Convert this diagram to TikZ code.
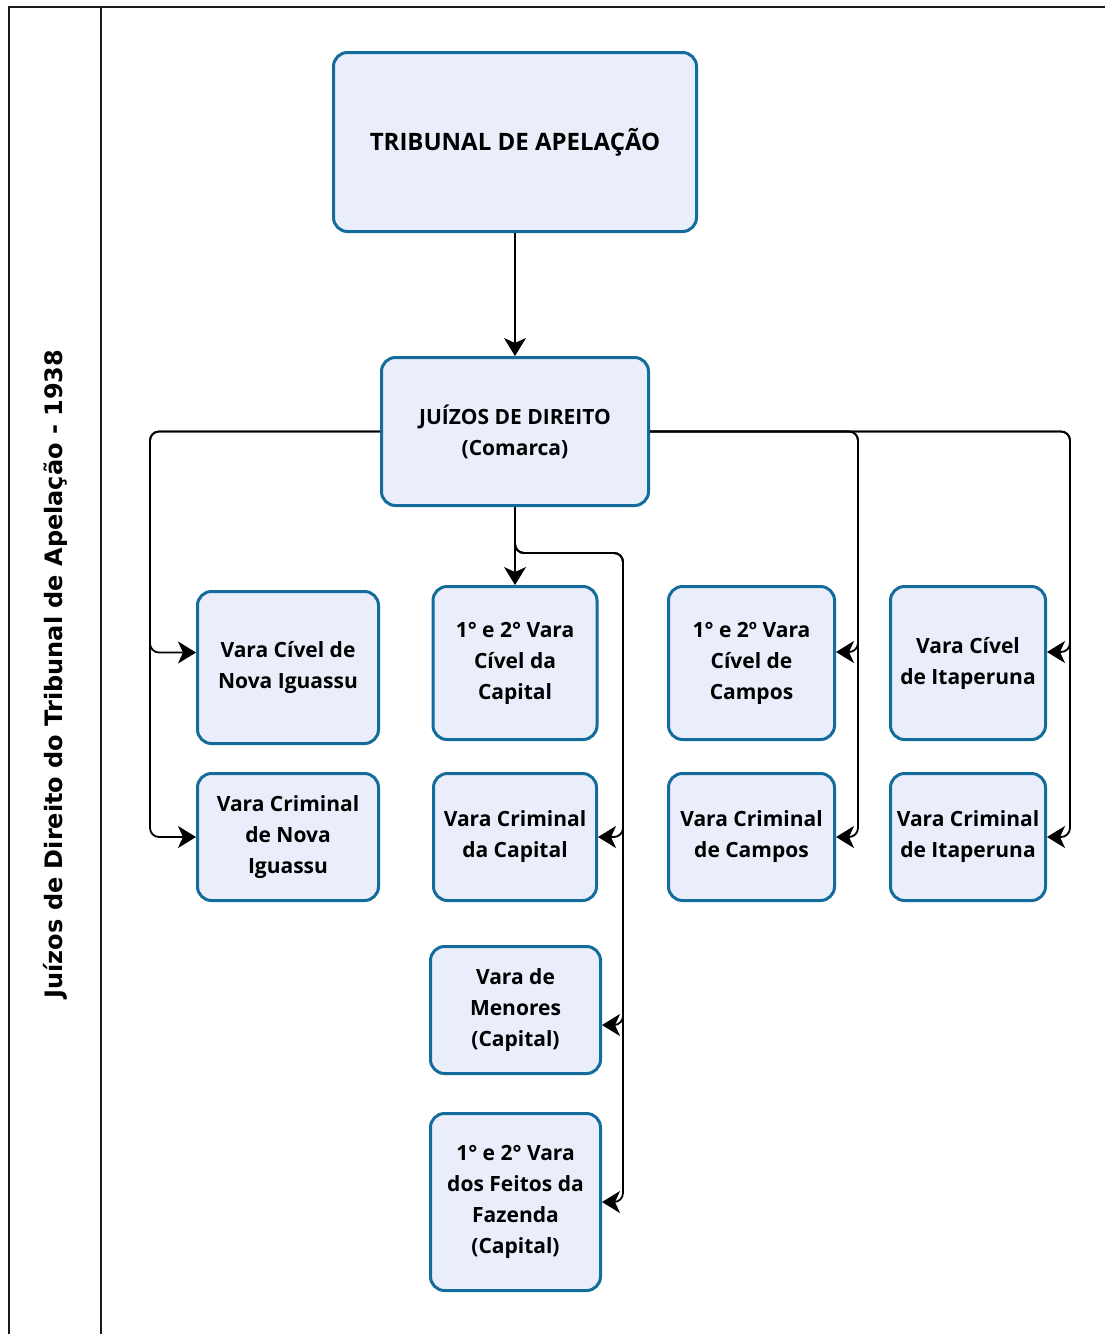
\documentclass[tikz,border=0pt]{standalone}
\usepackage{fontspec}
\setmainfont{Open Sans}
\newfontfamily\sidefont{DejaVu Sans}
\usetikzlibrary{arrows.meta}
\definecolor{boxblue}{RGB}{20,108,156}
\definecolor{boxfill}{RGB}{234,238,251}
\definecolor{framegray}{RGB}{25,25,25}
\begin{document}
\begin{tikzpicture}[x=1pt,y=-1pt,
  box/.style={draw=boxblue, line width=3pt, fill=boxfill, rounded corners=14pt,
    align=center, inner sep=2pt, font=\fontsize{21}{31}\selectfont\bfseries},
  conn/.style={line width=1.8pt, black, rounded corners=9pt,
    -{Stealth[length=18pt,width=22pt,inset=5pt]}}]
\useasboundingbox (0,0) rectangle (1104,1334);
\fill[white] (0,0) rectangle (1104,1334);

% page frame and side column
\draw[framegray, line width=2pt] (9,1340) -- (9,7) -- (1110,7);
\draw[framegray, line width=2pt] (101,7) -- (101,1340);
\node[rotate=90, font=\sidefont\fontsize{24}{28}\selectfont\bfseries] (side) at (55,674)
  {Juízos de Direito do Tribunal de Apelação - 1938};

% boxes
\node[box, minimum width=363pt, minimum height=179pt, font=\fontsize{24}{31}\selectfont\bfseries] (trib) at (515,142) {TRIBUNAL DE APELAÇÃO};
\node[box, minimum width=267pt, minimum height=148pt] (juiz) at (515,431.5) {JUÍZOS DE DIREITO\\(Comarca)};

\node[box, minimum width=181pt, minimum height=152pt] (nic) at (288,667.5) {Vara Cível de\\Nova Iguassu};
\node[box, minimum width=164pt, minimum height=153pt] (cap1) at (515,663) {1° e 2° Vara\\Cível da\\Capital};
\node[box, minimum width=166pt, minimum height=153pt] (camp1) at (751.5,663) {1° e 2º Vara\\Cível de\\Campos};
\node[box, minimum width=155pt, minimum height=153pt] (ita1) at (968,663) {Vara Cível\\de Itaperuna};

\node[box, minimum width=181pt, minimum height=127pt] (nicr) at (288,837) {Vara Criminal\\de Nova\\Iguassu};
\node[box, minimum width=163pt, minimum height=127pt] (capcr) at (515,837) {Vara Criminal\\da Capital};
\node[box, minimum width=166pt, minimum height=127pt] (campcr) at (751.5,837) {Vara Criminal\\de Campos};
\node[box, minimum width=155pt, minimum height=127pt] (itacr) at (968,837) {Vara Criminal\\de Itaperuna};

\node[box, minimum width=170pt, minimum height=127pt] (men) at (515.5,1010) {Vara de\\Menores\\(Capital)};
\node[box, minimum width=170pt, minimum height=177pt] (faz) at (515.5,1202) {1° e 2° Vara\\dos Feitos da\\Fazenda\\(Capital)};

% routing points of the connector buses
\coordinate (lbus) at (150,431.5);
\coordinate (cbusr) at (623,553);
\coordinate (rbusa) at (858,431.5);
\coordinate (rbusb) at (1070,431.5);

% connectors
\draw[conn] (trib.south) -- (juiz.north);
\draw[conn] (juiz.south) -- (cap1.north);

\draw[conn] (juiz.west) -- (lbus) |- ([yshift=15pt]nic.west);
\draw[conn] (juiz.west) -- (lbus) |- (nicr.west);

\draw[conn] (juiz.south) |- (cbusr) |- (capcr.east);
\draw[conn] (juiz.south) |- (cbusr) |- ([yshift=-15pt]men.east);
\draw[conn] (juiz.south) |- (cbusr) |- (faz.east);

\draw[conn] (juiz.east) -- (rbusa) |- ([yshift=11pt]camp1.east);
\draw[conn] (juiz.east) -- (rbusa) |- (campcr.east);
\draw[conn] (juiz.east) -- (rbusb) |- ([yshift=11pt]ita1.east);
\draw[conn] (juiz.east) -- (rbusb) |- (itacr.east);
\end{tikzpicture}
\end{document}
